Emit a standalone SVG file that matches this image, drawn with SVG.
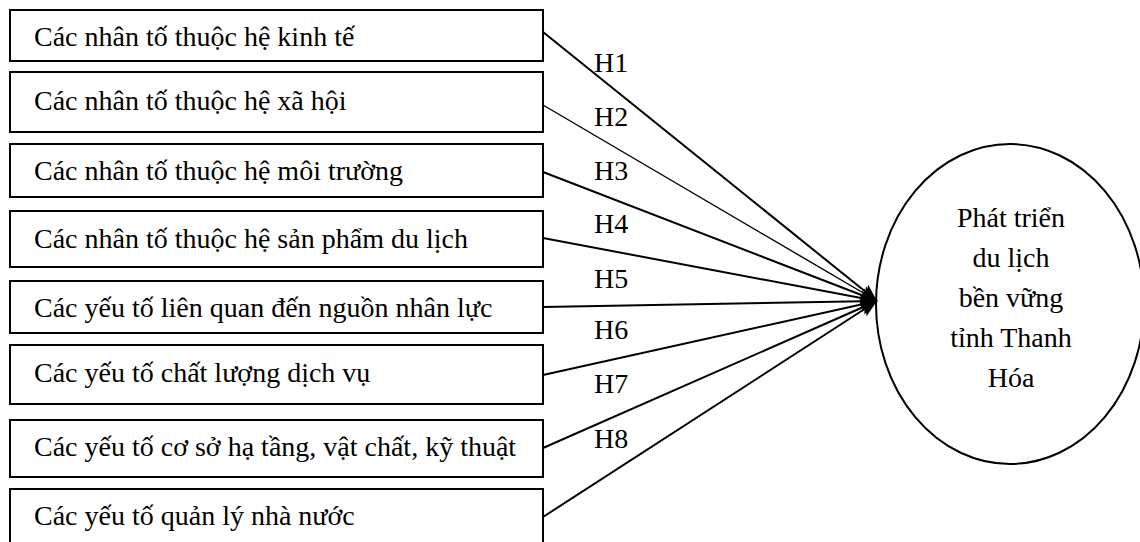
<svg xmlns="http://www.w3.org/2000/svg" width="1140" height="542" viewBox="0 0 1140 542">
<defs>
<style>
.box{fill:#fff;stroke:#000;stroke-width:2}
text{font-family:"Liberation Serif","Times New Roman",Times,serif;font-size:28px;fill:#000}
.c{text-anchor:middle}
.ln{stroke:#000;stroke-width:2;fill:none;marker-end:url(#ah)}
</style>
<marker id="ah" viewBox="0 0 10 10" refX="10" refY="5" markerUnits="userSpaceOnUse" markerWidth="17" markerHeight="17" orient="auto">
<path d="M0,0.8 L10,5 L0,9.2 L2,5 Z" fill="#000"/>
</marker>
</defs>
<rect width="1140" height="542" fill="#fff"/>
<g id="n1"><rect class="box" x="10" y="10" width="533" height="51"/><text x="34" y="46">Các nhân tố thuộc hệ kinh tế</text></g>
<g id="n2"><rect class="box" x="10" y="72" width="533" height="60"/><text x="34" y="110">Các nhân tố thuộc hệ xã hội</text></g>
<g id="n3"><rect class="box" x="10" y="144" width="533" height="53"/><text x="34" y="180">Các nhân tố thuộc hệ môi trường</text></g>
<g id="n4"><rect class="box" x="10" y="211" width="533" height="56"/><text x="34" y="248">Các nhân tố thuộc hệ sản phẩm du lịch</text></g>
<g id="n5"><rect class="box" x="10" y="281" width="533" height="52"/><text x="34" y="317">Các yếu tố liên quan đến nguồn nhân lực</text></g>
<g id="n6"><rect class="box" x="10" y="345" width="533" height="59"/><text x="34" y="382">Các yếu tố chất lượng dịch vụ</text></g>
<g id="n7"><rect class="box" x="10" y="420" width="533" height="57"/><text x="34" y="456">Các yếu tố cơ sở hạ tầng, vật chất, kỹ thuật</text></g>
<g id="n8"><rect class="box" x="10" y="489" width="533" height="70"/><text x="34" y="525">Các yếu tố quản lý nhà nước</text></g>
<g id="target"><ellipse cx="1010" cy="304" rx="134" ry="160" fill="#fff" stroke="#000" stroke-width="2"/>
<text class="c" x="1011" y="227">Phát triển</text>
<text class="c" x="1011" y="267">du lịch</text>
<text class="c" x="1011" y="307">bền vững</text>
<text class="c" x="1011" y="347">tỉnh Thanh</text>
<text class="c" x="1011" y="387">Hóa</text></g>
<g id="connectors">
<line class="ln" x1="543" y1="32" x2="877" y2="301"/>
<line class="ln" x1="543" y1="105" x2="877" y2="301" style="stroke-width:1.4"/>
<line class="ln" x1="543" y1="172" x2="877" y2="301"/>
<line class="ln" x1="543" y1="238" x2="877" y2="301"/>
<line class="ln" x1="543" y1="307" x2="877" y2="301"/>
<line class="ln" x1="543" y1="375" x2="877" y2="301"/>
<line class="ln" x1="543" y1="448" x2="877" y2="301"/>
<line class="ln" x1="543" y1="517" x2="877" y2="301"/>
</g>
<g id="labels">
<text x="594" y="72">H1</text>
<text x="594" y="126">H2</text>
<text x="594" y="180">H3</text>
<text x="594" y="233">H4</text>
<text x="594" y="288">H5</text>
<text x="594" y="339">H6</text>
<text x="594" y="393">H7</text>
<text x="594" y="448">H8</text>
</g>
</svg>
